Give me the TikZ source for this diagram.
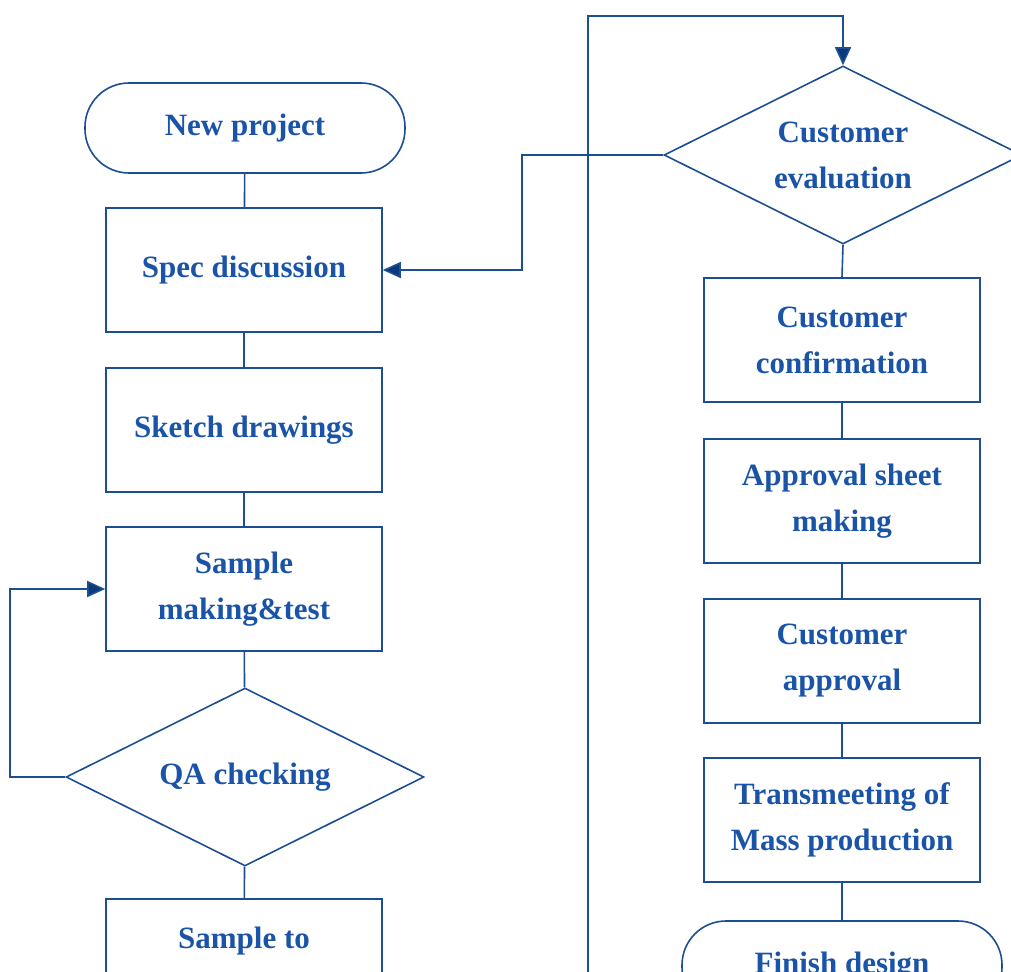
\documentclass[tikz,border=0pt]{standalone}
\usepackage{fontspec}
\setmainfont{Liberation Serif}
\usetikzlibrary{shapes.geometric,arrows.meta}
\definecolor{linec}{RGB}{28,78,148}
\definecolor{textc}{RGB}{26,84,168}
\definecolor{arrc}{RGB}{10,58,122}
\tikzset{
  base/.style={draw=linec, line width=1.6pt, text=textc, align=center, inner sep=0pt,
    font=\fontsize{31}{46}\selectfont\bfseries},
  procbox/.style={base, rectangle, minimum width=276pt, minimum height=124pt},
  termbox/.style={base, rectangle, rounded corners=44pt, minimum width=320pt, minimum height=90pt},
  decbox/.style={base, diamond, aspect=2, minimum width=358pt, minimum height=178pt},
  conn/.style={draw=linec, line width=1.6pt},
  arr/.style={conn, -{Triangle[length=18pt,width=16pt,fill=arrc]}},
}
\begin{document}
\begin{tikzpicture}[x=1pt,y=-1pt]
\useasboundingbox (0,0) rectangle (1011,971);
\begin{scope}
\clip (0,0) rectangle (1011,971);
% left column
\node[termbox] (np) at (245,128) {New project};
\node[procbox] (spec) at (244,270) {Spec discussion};
\node[procbox] (sketch) at (244,430) {Sketch drawings};
\node[procbox] (smt) at (244,589) {Sample\\making\&test};
\node[decbox] (qa) at (245,777) {QA checking};
\node[procbox] (st) at (244,961) {Sample to\\\mbox{}};
% right column
\node[decbox] (ce) at (843,155) {Customer\\evaluation};
\node[procbox] (cc) at (842,340) {Customer\\confirmation};
\node[procbox] (asm) at (842,501) {Approval sheet\\making};
\node[procbox] (ca) at (842,661) {Customer\\approval};
\node[procbox] (tm) at (842,820) {Transmeeting of\\Mass production};
\node[termbox] (fd) at (842,966) {Finish design};
% connectors
\draw[conn] (np) -- (spec);
\draw[conn] (spec) -- (sketch);
\draw[conn] (sketch) -- (smt);
\draw[conn] (smt) -- (qa);
\draw[conn] (qa) -- (st);
\draw[arr] (qa.west) -- (10,777) |- (smt.west);
\draw[conn] (ce.south) -- (cc.north);
\draw[conn] (cc) -- (asm);
\draw[conn] (asm) -- (ca);
\draw[conn] (ca) -- (tm);
\draw[conn] (tm) -- (fd);
\draw[arr] (ce.west) -- (522,155) |- (spec.east);
\coordinate (loopstart) at (588,1000);
\coordinate (loopcorner) at (588,16);
\draw[arr] (loopstart) -- (loopcorner) -| (ce.north);
\end{scope}
\end{tikzpicture}
\end{document}
